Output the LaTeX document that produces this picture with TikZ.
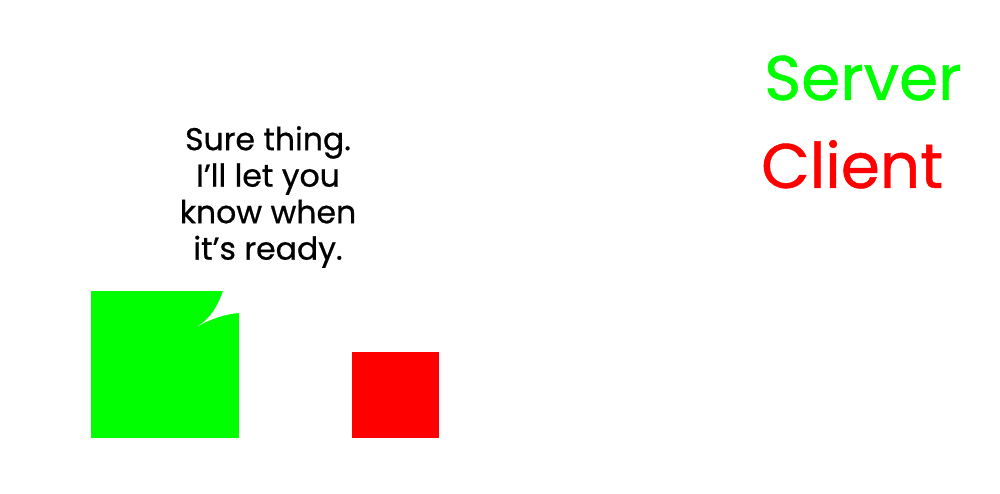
\documentclass[tikz,border=0pt]{standalone}
\usepackage{fontspec}
\setmainfont{Poppins}
\newfontfamily\mediumfont{Poppins}[FakeBold=0.7]
\usetikzlibrary{positioning}
\definecolor{servergreen}{HTML}{00FF00}
\definecolor{clientred}{HTML}{FF0000}
\tikzset{
  serverbox/.style={rectangle, fill=servergreen, draw=none, inner sep=0,
                    minimum width=148bp, minimum height=147bp},
  clientbox/.style={rectangle, fill=clientred, draw=none, inner sep=0,
                    minimum width=87bp, minimum height=86bp},
  bubbletext/.style={align=center, inner sep=0,
                     font=\mediumfont\fontsize{31.5bp}{36.5bp}\selectfont},
  legendtext/.style={anchor=base west, inner sep=0,
                     font=\mediumfont\fontsize{63bp}{70bp}\selectfont},
}
\begin{document}
\begin{tikzpicture}[x=1bp, y=-1bp]
  \useasboundingbox[fill=white] (0,0) rectangle (1000,494);

  % --- actors ---
  \node[serverbox] (server) at (165,364.5) {};
  \node[clientbox] (client) at (395.5,395) {};

  % --- speech bubble tail cut into the server ---
  \fill[white] (223,291) .. controls (218,306) and (210,319) .. (198,326)
               .. controls (213,318) and (226,314) .. (239,313) -- (239,291) -- cycle;

  % --- what the server says ---
  \node[bubbletext] (reply) at (268,197)
       {Sure thing.\\I’ll let you\\know when\\it’s ready.};

  % --- legend ---
  \node[legendtext, text=servergreen] (serverlabel) at (764,100) {Server};
  \node[legendtext, text=clientred] (clientlabel) at (761,188) {Client};
\end{tikzpicture}
\end{document}
